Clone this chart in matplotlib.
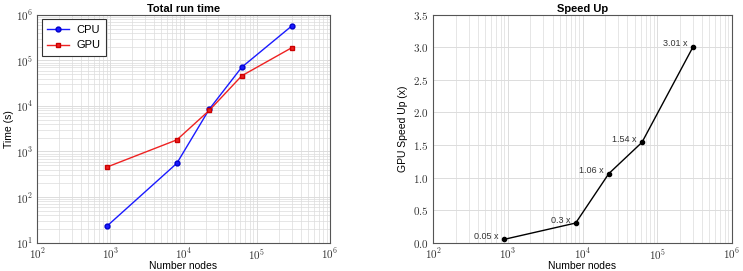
import numpy as np
import matplotlib
matplotlib.use("Agg")
import matplotlib.pyplot as plt

plt.rcParams['mathtext.fontset'] = 'cm'
plt.rcParams['font.family'] = ['Liberation Sans', 'DejaVu Sans']

# Data
nodes = [900, 8100, 22500, 62500, 302500]
cpu_time = [23, 550, 8500, 71000, 575000]
gpu_time = [455, 1800, 8000, 46000, 191000]
speed_up = [0.05, 0.3, 1.06, 1.54, 3.01]
speed_labels = ["0.05 x", "0.3 x", "1.06 x", "1.54 x", "3.01 x"]

x_exps = [2, 3, 4, 5, 6]
y_exps = [1, 2, 3, 4, 5, 6]
speed_ticks = [0.0, 0.5, 1.0, 1.5, 2.0, 2.5, 3.0, 3.5]

grid_col = '#dcdcdc'
spine_col = '#555555'


def style_axes(ax):
    for s in ax.spines.values():
        s.set_color(spine_col)
        s.set_linewidth(0.8)
    ax.tick_params(which='both', direction='in', length=0, labelsize=8,
                   colors='#333333', pad=2)
    ax.tick_params(axis='x', pad=3)
    ax.tick_params(axis='y', pad=3)
    ax.set_axisbelow(True)


def log_labels(exps):
    return [r'$10^{%d}$' % e for e in exps]


fig = plt.figure(figsize=(7.43, 2.71), dpi=100)

# Left: total run time
ax1 = fig.add_axes([0.050, 0.105, 0.394, 0.84])
ax1.plot(nodes, cpu_time, '-o', color='#1a1aff', mec='#0000cc', ms=3.5, lw=1.0, label='CPU')
ax1.plot(nodes, gpu_time, '-s', color='#ee2222', mec='#cc0000', ms=3.5, lw=1.0, label='GPU')
ax1.set_xscale('log')
ax1.set_yscale('log')
ax1.set_xlim(1e2, 1e6)
ax1.set_ylim(1e1, 1e6)
ax1.set_xticks([10.0 ** e for e in x_exps])
ax1.set_xticklabels(log_labels(x_exps))
ax1.set_yticks([10.0 ** e for e in y_exps])
ax1.set_yticklabels(log_labels(y_exps))
ax1.grid(True, which='major', color=grid_col, lw=0.7)
ax1.grid(True, which='minor', color=grid_col, lw=0.5)
style_axes(ax1)
ax1.set_title('Total run time', fontsize=8, fontweight='bold', pad=2)
ax1.set_xlabel('Number nodes', fontsize=7.5, labelpad=-0.5)
ax1.set_ylabel('Time (s)', fontsize=7.5, labelpad=1)
leg = ax1.legend(loc='upper left', fontsize=8, fancybox=False, framealpha=1,
                 edgecolor='#333333', handlelength=2.0, borderaxespad=0.4,
                 borderpad=0.5, labelspacing=0.5, handletextpad=0.6)
leg.get_frame().set_linewidth(0.8)

# Right: speed up
ax2 = fig.add_axes([0.583, 0.105, 0.402, 0.84])
ax2.plot(nodes, speed_up, '-o', color='black', ms=3, lw=1.0)
for x, y, t in zip(nodes, speed_up, speed_labels):
    ax2.annotate(t, (x, y), xytext=(-4, 2), textcoords='offset points',
                 ha='right', va='center', fontsize=6.5, color='#333333')
ax2.set_xscale('log')
ax2.set_xlim(1e2, 1e6)
ax2.set_ylim(0, 3.5)
ax2.set_xticks([10.0 ** e for e in x_exps])
ax2.set_xticklabels(log_labels(x_exps))
ax2.set_yticks(speed_ticks)
ax2.set_yticklabels([r'$%.1f$' % v for v in speed_ticks])
ax2.grid(True, which='major', color=grid_col, lw=0.7)
ax2.grid(True, which='minor', axis='x', color=grid_col, lw=0.5)
style_axes(ax2)
ax2.set_title('Speed Up', fontsize=8, fontweight='bold', pad=2)
ax2.set_xlabel('Number nodes', fontsize=7.5, labelpad=-0.5)
ax2.set_ylabel('GPU Speed Up (x)', fontsize=7.5, labelpad=4)

fig.savefig('out.png', dpi=100)
